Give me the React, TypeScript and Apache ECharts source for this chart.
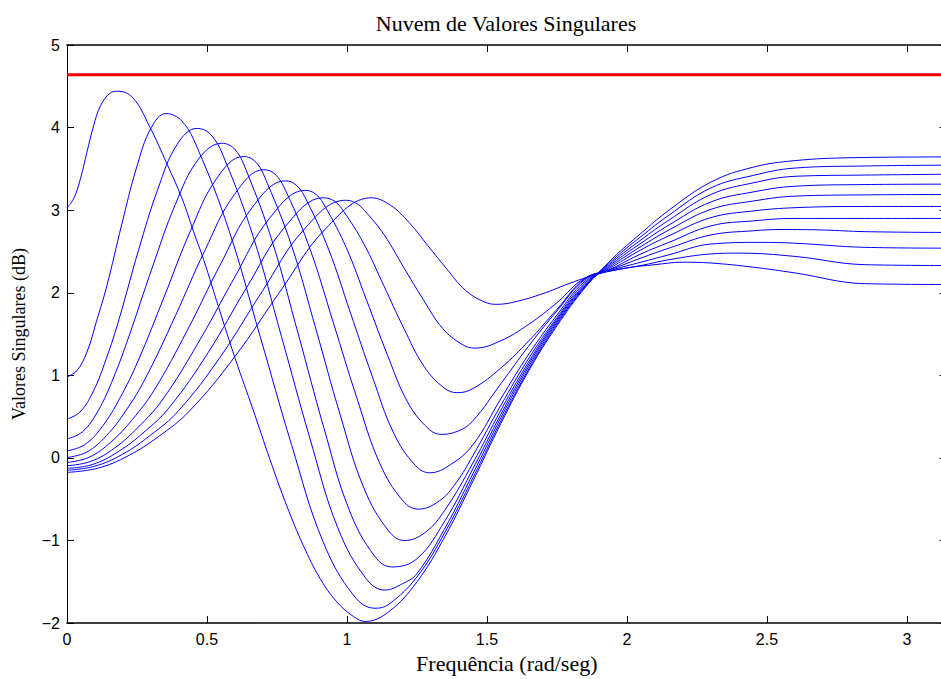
import React, { useEffect, useRef } from 'react';
import * as echarts from 'echarts';

type Pt = [number, number];

// Singular value curves ([frequency, value])
const curve1: Pt[] = [
  [0, 3.03], [0.024, 3.14], [0.048, 3.38], [0.071, 3.7], [0.095, 4.02], [0.119, 4.26], [0.155, 4.42], [0.181, 4.44],
  [0.235, 4.36], [0.294, 4.02], [0.357, 3.56], [0.411, 3.14], [0.452, 2.74], [0.488, 2.4], [0.542, 1.82], [0.601, 1.2],
  [0.665, 0.58], [0.725, -0.02], [0.785, -0.58], [0.844, -1.06], [0.904, -1.46], [0.963, -1.74], [1.023, -1.92], [1.065, -1.98],
  [1.15, -1.86], [1.25, -1.5], [1.35, -0.95], [1.45, -0.28], [1.55, 0.42], [1.65, 1.06], [1.75, 1.6], [1.85, 2.06],
  [1.95, 2.42], [2.05, 2.72], [2.15, 3.0], [2.3, 3.34], [2.45, 3.52], [2.6, 3.6], [2.8, 3.635], [3.1416, 3.645],
];
const curve2: Pt[] = [
  [0, 0.98], [0.035, 1.056], [0.071, 1.28], [0.105, 1.65], [0.142, 2.08], [0.195, 2.82], [0.248, 3.51], [0.301, 4.0], [0.354, 4.17],
  [0.41, 4.08], [0.466, 3.75], [0.578, 2.76], [0.69, 1.47], [0.802, 0.16], [0.914, -1.01], [1.025, -1.67], [1.1, -1.82],
  [1.15, -1.77], [1.25, -1.44], [1.35, -0.9], [1.45, -0.24], [1.55, 0.45], [1.65, 1.08], [1.75, 1.62], [1.85, 2.07],
  [1.95, 2.4], [2.05, 2.68], [2.15, 2.94], [2.3, 3.27], [2.45, 3.42], [2.6, 3.51], [2.85, 3.535], [3.1416, 3.545],
];
const curve3: Pt[] = [
  [0, 0.47], [0.046, 0.555], [0.093, 0.8], [0.14, 1.2], [0.186, 1.68], [0.255, 2.51], [0.325, 3.26], [0.394, 3.8], [0.464, 3.99],
  [0.515, 3.91], [0.565, 3.6], [0.665, 2.68], [0.766, 1.47], [0.867, 0.245], [0.967, -0.845], [1.068, -1.46], [1.135, -1.6],
  [1.2, -1.52], [1.25, -1.4], [1.35, -0.85], [1.45, -0.19], [1.55, 0.49], [1.65, 1.11], [1.75, 1.64], [1.85, 2.08],
  [1.95, 2.38], [2.05, 2.64], [2.15, 2.88], [2.3, 3.19], [2.45, 3.33], [2.6, 3.41], [2.85, 3.425], [3.1416, 3.435],
];
const curve4: Pt[] = [
  [0, 0.23], [0.055, 0.316], [0.111, 0.57], [0.166, 0.97], [0.221, 1.47], [0.304, 2.3], [0.387, 3.07], [0.47, 3.62], [0.553, 3.81],
  [0.6, 3.735], [0.644, 3.45], [0.735, 2.6], [0.826, 1.5], [0.917, 0.37], [1.008, -0.63], [1.099, -1.19], [1.16, -1.32],
  [1.25, -1.22], [1.35, -0.76], [1.45, -0.13], [1.55, 0.53], [1.65, 1.14], [1.75, 1.66], [1.85, 2.09],
  [1.95, 2.36], [2.05, 2.6], [2.15, 2.82], [2.3, 3.1], [2.45, 3.22], [2.6, 3.29], [2.85, 3.31], [3.1416, 3.315],
];
const curve5: Pt[] = [
  [0, 0.085], [0.063, 0.16], [0.126, 0.38], [0.189, 0.725], [0.252, 1.16], [0.347, 1.95], [0.441, 2.75], [0.536, 3.39], [0.63, 3.65],
  [0.675, 3.58], [0.716, 3.32], [0.803, 2.56], [0.889, 1.56], [0.975, 0.53], [1.061, -0.37], [1.148, -0.88], [1.205, -1.0],
  [1.28, -0.9], [1.35, -0.63], [1.45, -0.06], [1.55, 0.58], [1.65, 1.17], [1.75, 1.68], [1.85, 2.1],
  [1.95, 2.34], [2.05, 2.56], [2.15, 2.76], [2.3, 3.01], [2.45, 3.11], [2.6, 3.17], [2.85, 3.185], [3.1416, 3.19],
];
const curve6: Pt[] = [
  [0, 0.005], [0.07, 0.07], [0.141, 0.27], [0.211, 0.576], [0.281, 0.97], [0.387, 1.72], [0.492, 2.51], [0.598, 3.19], [0.703, 3.49],
  [0.745, 3.43], [0.786, 3.2], [0.869, 2.52], [0.951, 1.64], [1.034, 0.74], [1.117, -0.065], [1.2, -0.52], [1.255, -0.62],
  [1.33, -0.52], [1.39, -0.3], [1.45, 0.03], [1.55, 0.64], [1.65, 1.21], [1.75, 1.7], [1.85, 2.12],
  [1.95, 2.32], [2.05, 2.52], [2.15, 2.69], [2.3, 2.91], [2.45, 2.99], [2.6, 3.03], [2.85, 3.045], [3.1416, 3.045],
];
const curve7: Pt[] = [
  [0, -0.055], [0.078, 0.006], [0.156, 0.19], [0.234, 0.467], [0.312, 0.825], [0.429, 1.54], [0.546, 2.33], [0.663, 3.04], [0.78, 3.355],
  [0.82, 3.3], [0.857, 3.11], [0.935, 2.52], [1.012, 1.76], [1.09, 0.99], [1.167, 0.3], [1.244, -0.09], [1.296, -0.18],
  [1.37, -0.08], [1.45, 0.16], [1.55, 0.72], [1.65, 1.26], [1.75, 1.73], [1.85, 2.14],
  [1.95, 2.3], [2.05, 2.47], [2.15, 2.61], [2.3, 2.81], [2.45, 2.87], [2.6, 2.9], [2.85, 2.9], [3.1416, 2.9],
];
const curve8: Pt[] = [
  [0, -0.095], [0.085, -0.042], [0.17, 0.12], [0.255, 0.375], [0.34, 0.7], [0.468, 1.39], [0.596, 2.17], [0.723, 2.9], [0.851, 3.24],
  [0.89, 3.19], [0.924, 3.03], [0.997, 2.55], [1.07, 1.91], [1.143, 1.26], [1.216, 0.68], [1.289, 0.36], [1.338, 0.285],
  [1.4, 0.33], [1.45, 0.45], [1.55, 0.9], [1.65, 1.36], [1.75, 1.78], [1.85, 2.16],
  [1.95, 2.29], [2.05, 2.42], [2.15, 2.54], [2.3, 2.7], [2.45, 2.75], [2.55, 2.766], [2.7, 2.76], [2.85, 2.74], [3.1416, 2.73],
];
const curve9: Pt[] = [
  [0, -0.127], [0.092, -0.078], [0.183, 0.076], [0.275, 0.312], [0.366, 0.614], [0.504, 1.275], [0.641, 2.06], [0.779, 2.8], [0.916, 3.15],
  [0.955, 3.11], [0.988, 2.985], [1.059, 2.6], [1.131, 2.09], [1.203, 1.57], [1.275, 1.11], [1.346, 0.85], [1.394, 0.79],
  [1.45, 0.84], [1.55, 1.09], [1.65, 1.42], [1.75, 1.8], [1.85, 2.17],
  [1.95, 2.28], [2.05, 2.37], [2.15, 2.46], [2.3, 2.59], [2.475, 2.61], [2.6, 2.6], [2.85, 2.55], [3.1416, 2.54],
];
const curve10: Pt[] = [
  [0, -0.15], [0.099, -0.1], [0.199, 0.046], [0.298, 0.275], [0.398, 0.57], [0.547, 1.22], [0.696, 2.01], [0.845, 2.76], [0.994, 3.12],
  [1.03, 3.09], [1.063, 2.995], [1.133, 2.7], [1.202, 2.31], [1.272, 1.92], [1.341, 1.57], [1.411, 1.375], [1.457, 1.33],
  [1.55, 1.42], [1.65, 1.62], [1.75, 1.88], [1.85, 2.18],
  [1.95, 2.27], [2.05, 2.33], [2.15, 2.4], [2.3, 2.47], [2.4, 2.48], [2.6, 2.44], [2.85, 2.34], [3.1416, 2.33],
];
const curve11: Pt[] = [
  [0, -0.175], [0.109, -0.125], [0.218, 0.025], [0.326, 0.257], [0.435, 0.56], [0.598, 1.22], [0.762, 2.02], [0.925, 2.78], [1.088, 3.15],
  [1.155, 3.06], [1.222, 2.85], [1.289, 2.57], [1.356, 2.29], [1.423, 2.03], [1.49, 1.89], [1.535, 1.86],
  [1.6, 1.89], [1.7, 1.99], [1.8, 2.12], [1.9, 2.23], [2.0, 2.3], [2.1, 2.34], [2.2, 2.37], [2.3, 2.36],
  [2.45, 2.31], [2.6, 2.24], [2.85, 2.11], [3.1416, 2.1],
];

const curves: Pt[][] = [curve1, curve2, curve3, curve4, curve5, curve6, curve7, curve8, curve9, curve10, curve11];
const boundValue = 4.64;
const xMin = 0;
const xMax = 3.1416;
const yMin = -2;
const yMax = 5;

const serif = 'Liberation Serif';
const sans = 'Liberation Sans';

export default function App() {
  const ref = useRef<HTMLDivElement>(null);
  useEffect(() => {
    document.body.style.margin = '0';
    const chart = echarts.init(ref.current!, null, { renderer: 'svg' });
    const xLine = { show: true, onZero: false, lineStyle: { color: '#000', width: 1.6 } };
    const yLine = { show: true, onZero: false, lineStyle: { color: '#000', width: 1 } };
    const axisTick = { show: true, inside: true, length: 7, lineStyle: { color: '#000', width: 1 } };
    const xFmt = (v: number) => (Math.abs(v * 2 - Math.round(v * 2)) < 1e-6 ? String(v) : '');
    const yFmt = (v: number) => String(v).replace('-', '\u2212');
    chart.setOption({
      animation: false,
      backgroundColor: '#fff',
      title: {
        text: 'Nuvem de Valores Singulares',
        left: 506,
        top: 12,
        padding: 0,
        textAlign: 'center',
        textStyle: { fontFamily: serif, fontSize: 22, fontWeight: 'normal', color: '#000' },
      },
      grid: { left: 67, top: 45, width: 879.6, height: 583 },
      xAxis: [
        {
          type: 'value', min: xMin, max: xMax, interval: 0.5, position: 'bottom',
          name: 'Frequência (rad/seg)', nameLocation: 'middle', nameGap: 22,
          nameTextStyle: { fontFamily: serif, fontSize: 22, color: '#000' },
          axisLine: xLine, axisTick,
          axisLabel: { fontFamily: sans, fontSize: 16, color: '#000', margin: 8, formatter: xFmt },
          splitLine: { show: false },
        },
        {
          type: 'value', min: xMin, max: xMax, interval: 0.5, position: 'top',
          axisLine: xLine, axisTick, axisLabel: { show: false }, splitLine: { show: false },
        },
      ],
      yAxis: [
        {
          type: 'value', min: yMin, max: yMax, interval: 1, position: 'left',
          name: 'Valores Singulares (dB)', nameLocation: 'middle', nameGap: 39,
          nameTextStyle: { fontFamily: serif, fontSize: 18, color: '#000' },
          axisLine: yLine, axisTick,
          axisLabel: { fontFamily: sans, fontSize: 16, color: '#000', margin: 7, formatter: yFmt },
          splitLine: { show: false },
        },
        {
          type: 'value', min: yMin, max: yMax, interval: 1, position: 'right',
          axisLine: yLine, axisTick, axisLabel: { show: false }, splitLine: { show: false },
        },
      ],
      series: [
        ...curves.map((d, i) => ({
          name: 'sv' + (i + 1),
          type: 'line',
          xAxisIndex: 0,
          yAxisIndex: 0,
          data: d,
          smooth: 0.4,
          symbol: 'none',
          silent: true,
          lineStyle: { color: '#0000ff', width: 1 },
        })),
        {
          name: 'limite',
          type: 'line',
          xAxisIndex: 0,
          yAxisIndex: 0,
          data: [[xMin, boundValue], [xMax, boundValue]],
          symbol: 'none',
          silent: true,
          lineStyle: { color: '#ff0000', width: 3 },
        },
      ],
    });
    return () => chart.dispose();
  }, []);
  return (
    <div style={{ width: 941, height: 679, overflow: 'hidden', position: 'relative' }}>
      <div ref={ref} style={{ width: 952, height: 679 }} />
    </div>
  );
}
